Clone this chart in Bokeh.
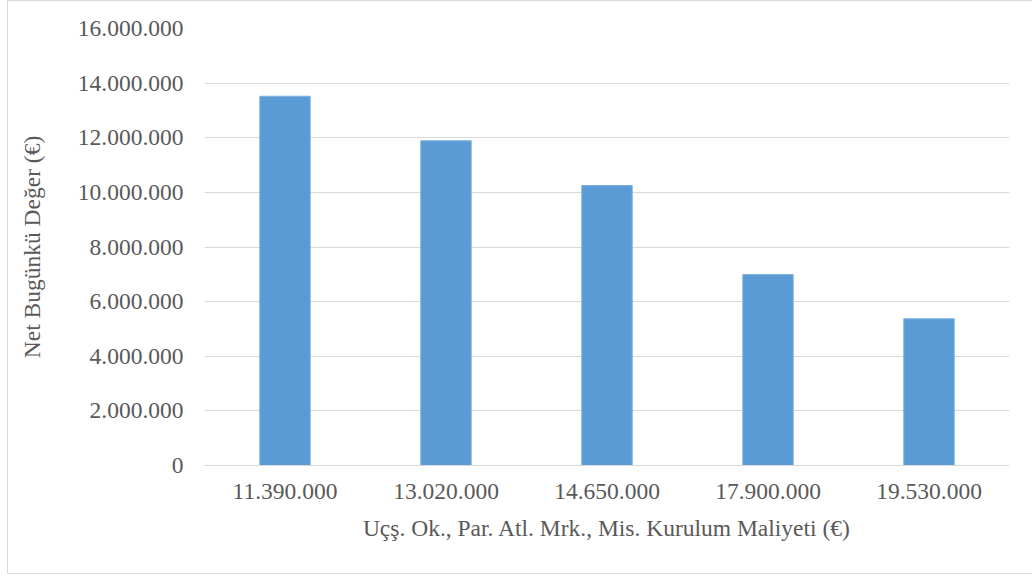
from bokeh.plotting import figure
from bokeh.models import (FactorRange, Range1d, FixedTicker, CustomJSTickFormatter,
                          ColumnDataSource)
from bokeh.embed import file_html
from bokeh.resources import INLINE

# Installation cost scenarios (EUR) and resulting net present value (EUR)
cost_labels = ["11.390.000", "13.020.000", "14.650.000", "17.900.000", "19.530.000"]
npv_values = [13520000, 11890000, 10250000, 6990000, 5370000]
y_ticks = [0, 2000000, 4000000, 6000000, 8000000, 10000000, 12000000, 14000000, 16000000]

FONT = "'Liberation Serif', 'Times New Roman', serif"
FONT_SIZE = "23.5px"
TEXT = "#595959"
GRID = "#D9D9D9"
BAR = "#5B9BD5"

source = ColumnDataSource(data=dict(cost=cost_labels, npv=npv_values))

# the chart area sits 7px in from the left with a thin frame on three sides
OFFSET_X = 8
p = figure(
    width=1033 - OFFSET_X, height=574,
    x_range=FactorRange(*cost_labels, range_padding=0),
    y_range=Range1d(0, 16000000),
    output_backend="svg", toolbar_location=None,
    min_border_left=204 - OFFSET_X, min_border_right=24,
    min_border_top=27, min_border_bottom=574 - 464,
    styles={
        "margin-left": "7px",
        "border-left": f"1px solid {GRID}",
        "border-top": f"1px solid {GRID}",
        "border-bottom": f"1px solid {GRID}",
    },
)

p.vbar(x="cost", top="npv", width=0.313, source=source,
       fill_color=BAR, line_color="#7BAFDF", line_width=1)

# frame and grid
p.outline_line_color = None
p.background_fill_color = "white"
p.border_fill_color = "white"
p.xgrid.grid_line_color = None
p.ygrid.grid_line_color = GRID
p.ygrid.grid_line_width = 1.2

# y axis
p.yaxis.ticker = FixedTicker(ticks=y_ticks)
p.yaxis.formatter = CustomJSTickFormatter(code="""
    return Math.round(tick).toString().replace(/\\B(?=(\\d{3})+(?!\\d))/g, ".");
""")
p.yaxis.axis_line_color = None
p.yaxis.major_tick_line_color = None
p.yaxis.minor_tick_line_color = None
p.yaxis.major_label_standoff = 15
p.yaxis.axis_label = "Net Bugünkü Değer (€)"
p.yaxis.axis_label_standoff = 30

# x axis
p.xaxis.axis_line_color = GRID
p.xaxis.axis_line_width = 1.2
p.xaxis.major_tick_line_color = None
p.xaxis.minor_tick_line_color = None
p.xaxis.major_label_standoff = 12
p.xaxis.axis_label = "Uçş. Ok., Par. Atl. Mrk., Mis. Kurulum Maliyeti (€)"
p.xaxis.axis_label_standoff = 13

for ax in (p.xaxis, p.yaxis):
    ax.major_label_text_font = FONT
    ax.major_label_text_font_size = FONT_SIZE
    ax.major_label_text_color = TEXT
    ax.axis_label_text_font = FONT
    ax.axis_label_text_font_size = FONT_SIZE
    ax.axis_label_text_font_style = "normal"
    ax.axis_label_text_color = TEXT

open("out.html", "w").write(file_html(p, INLINE))
